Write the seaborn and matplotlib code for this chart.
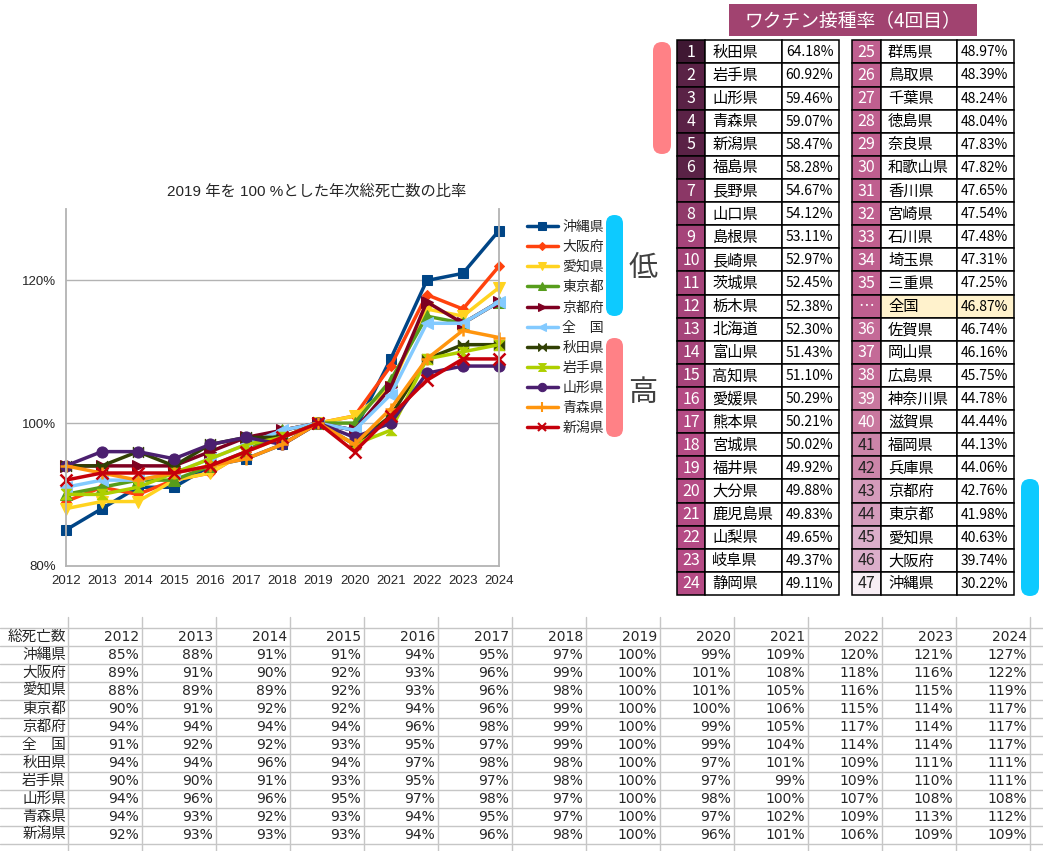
import numpy as np
import pandas as pd
import matplotlib
matplotlib.use("Agg")
import matplotlib.pyplot as plt
import seaborn as sns
from matplotlib.path import Path
from matplotlib.lines import Line2D
from matplotlib.patches import Rectangle, FancyBboxPatch
from matplotlib.ticker import FuncFormatter

# ---------------- data ----------------
years = [2012, 2013, 2014, 2015, 2016, 2017, 2018, 2019, 2020, 2021, 2022, 2023, 2024]
prefs = ["沖縄県", "大阪府", "愛知県", "東京都", "京都府", "全　国",
         "秋田県", "岩手県", "山形県", "青森県", "新潟県"]
okinawa  = [85, 88, 91, 91, 94, 95, 97, 100, 99, 109, 120, 121, 127]
osaka    = [89, 91, 90, 92, 93, 96, 99, 100, 101, 108, 118, 116, 122]
aichi    = [88, 89, 89, 92, 93, 96, 98, 100, 101, 105, 116, 115, 119]
tokyo    = [90, 91, 92, 92, 94, 96, 99, 100, 100, 106, 115, 114, 117]
kyoto    = [94, 94, 94, 94, 96, 98, 99, 100, 99, 105, 117, 114, 117]
zenkoku  = [91, 92, 92, 93, 95, 97, 99, 100, 99, 104, 114, 114, 117]
akita    = [94, 94, 96, 94, 97, 98, 98, 100, 97, 101, 109, 111, 111]
iwate    = [90, 90, 91, 93, 95, 97, 98, 100, 97, 99, 109, 110, 111]
yamagata = [94, 96, 96, 95, 97, 98, 97, 100, 98, 100, 107, 108, 108]
aomori   = [94, 93, 92, 93, 94, 95, 97, 100, 97, 102, 109, 113, 112]
niigata  = [92, 93, 93, 93, 94, 96, 98, 100, 96, 101, 106, 109, 109]
series = [okinawa, osaka, aichi, tokyo, kyoto, zenkoku,
          akita, iwate, yamagata, aomori, niigata]

rank_left = [str(i) for i in range(1, 25)]
names_left = ["秋田県", "岩手県", "山形県", "青森県", "新潟県", "福島県", "長野県", "山口県",
              "島根県", "長崎県", "茨城県", "栃木県", "北海道", "富山県", "高知県", "愛媛県",
              "熊本県", "宮城県", "福井県", "大分県", "鹿児島県", "山梨県", "岐阜県", "静岡県"]
rates_left = [64.18, 60.92, 59.46, 59.07, 58.47, 58.28, 54.67, 54.12, 53.11, 52.97, 52.45, 52.38,
              52.30, 51.43, 51.10, 50.29, 50.21, 50.02, 49.92, 49.88, 49.83, 49.65, 49.37, 49.11]
rank_right = ["25", "26", "27", "28", "29", "30", "31", "32", "33", "34", "35", "…",
              "36", "37", "38", "39", "40", "41", "42", "43", "44", "45", "46", "47"]
names_right = ["群馬県", "鳥取県", "千葉県", "徳島県", "奈良県", "和歌山県", "香川県", "宮崎県",
               "石川県", "埼玉県", "三重県", "全国", "佐賀県", "岡山県", "広島県", "神奈川県",
               "滋賀県", "福岡県", "兵庫県", "京都府", "東京都", "愛知県", "大阪府", "沖縄県"]
rates_right = [48.97, 48.39, 48.24, 48.04, 47.83, 47.82, 47.65, 47.54, 47.48, 47.31, 47.25, 46.87,
               46.74, 46.16, 45.75, 44.78, 44.44, 44.13, 44.06, 42.76, 41.98, 40.63, 39.74, 30.22]

# ---------------- styles ----------------
palette = ["#004586", "#FF420E", "#FFD320", "#579D1C", "#7E0021", "#83CAFF",
           "#314004", "#AECF00", "#4B1F6F", "#FF950E", "#C5000B"]
bowtie_h = Path([(-1, -1), (-1, 1), (1, -1), (1, 1), (-1, -1)],
                [Path.MOVETO, Path.LINETO, Path.LINETO, Path.LINETO, Path.CLOSEPOLY])
bowtie_v = Path([(-1, 1), (1, 1), (-1, -1), (1, -1), (-1, 1)],
                [Path.MOVETO, Path.LINETO, Path.LINETO, Path.LINETO, Path.CLOSEPOLY])
markers = ["s", "D", "v", "^", ">", "<", bowtie_h, bowtie_v, "o", "+", "x"]
msizes = [7.5, 5.5, 8, 8, 8, 8, 7.5, 7.5, 8, 9, 8]

rank_colors_left = ["#3F1833"] + ["#5A2246"] * 5 + ["#8B3766", "#903A6A"] + ["#A6447A"] * 7 + ["#B54B85"] * 9
rank_colors_right = (["#BF5F8F"] * 12 + ["#C46A97"] * 3 + ["#C9789F"] * 2 + ["#CC85A9"] * 2
                     + ["#D49BBB"] * 2 + ["#DBAECA"] * 2 + ["#F7EEF4"])
rank_text_right = ["white"] * 17 + ["#222222"] * 7

sns.set_style("white")
plt.rcParams["font.family"] = ["DejaVu Sans", "Noto Sans CJK JP"]
JP = ["Noto Sans CJK JP", "DejaVu Sans"]
CHART = ["Liberation Sans", "Noto Sans CJK JP", "DejaVu Sans"]

W, H = 1043, 851
fig = plt.figure(figsize=(W / 100, H / 100), dpi=100)

# background overlay in pixel coordinates
bg = fig.add_axes([0, 0, 1, 1])
bg.set_xlim(0, W)
bg.set_ylim(H, 0)
bg.axis("off")

# ---------------- line chart ----------------
ax_l, ax_r, ax_b, ax_t = 65.7, 499.0, 565.7, 209.2
ax = fig.add_axes([ax_l / W, (H - ax_b) / H, (ax_r - ax_l) / W, (ax_b - ax_t) / H])
ax.set_facecolor("none")

df = pd.DataFrame({
    "year": np.tile(years, len(prefs)),
    "ratio": np.concatenate(series),
    "pref": np.repeat(prefs, len(years)),
})
for p, c, m, ms in zip(prefs, palette, markers, msizes):
    sub = df[df["pref"] == p]
    sns.lineplot(data=sub, x="year", y="ratio", color=c, marker=m, markersize=ms,
                 markeredgecolor=c, markeredgewidth=1.8 if m in ("+", "x") else 0.75,
                 linewidth=2.5, ax=ax, clip_on=False, legend=False)

ax.set_xlim(2012, 2024)
ax.set_ylim(80, 130)
ax.set_xticks(years)
ax.set_xticklabels([str(y) for y in years], fontsize=9.5, family=CHART)
ax.set_yticks([80, 100, 120])
ax.yaxis.set_major_formatter(FuncFormatter(lambda v, _: f"{v:.0f}%"))
for lab in ax.get_yticklabels():
    lab.set_family(CHART)
ax.tick_params(axis="y", labelsize=9.5, length=4, color="#B3B3B3", pad=3)
ax.tick_params(axis="x", labelsize=9.5, length=3, color="#B3B3B3", pad=4)
ax.set_xlabel("")
ax.set_ylabel("")
for y in [100, 120]:
    ax.axhline(y, color="#B3B3B3", lw=1.0, zorder=0)
for s in ["left", "right", "bottom"]:
    ax.spines[s].set_color("#B3B3B3")
    ax.spines[s].set_linewidth(1.3)
ax.spines["top"].set_visible(False)

fig.text(317 / W, 1 - 192 / H, "2019 年を 100 %とした年次総死亡数の比率",
         ha="center", va="center", fontsize=11, family=CHART)

handles = [Line2D([], [], color=c, marker=m, markersize=ms * 0.75, markeredgecolor=c,
                  lw=2.5, markeredgewidth=1.5 if m in ("+", "x") else 0.75)
           for c, m, ms in zip(palette, markers, msizes)]
leg = ax.legend(handles, prefs, loc="upper left", bbox_to_anchor=(527 / W, 1 - 220 / H),
                bbox_transform=fig.transFigure, frameon=False, borderaxespad=0,
                handlelength=2.2, handletextpad=0.35, labelspacing=0.44, borderpad=0,
                prop={"family": JP, "size": 10})

# ---------------- decorations ----------------
def pill(x0, y0, x1, y1, color):
    r = (x1 - x0) / 2
    bg.add_patch(FancyBboxPatch((x0 + r, y0 + r), 0.001, (y1 - y0) - 2 * r,
                                boxstyle=f"round,pad={r}", facecolor=color,
                                edgecolor="none", alpha=0.95))

pill(606, 215, 623, 316, "#00C8FF")
pill(606, 338, 623, 437, "#FF7A80")
pill(653, 42, 671, 154, "#FF7A80")
pill(1021, 479, 1039, 596, "#00C8FF")
bg.text(643, 268, "低", ha="center", va="center", fontsize=21, color="#404040", family=JP)
bg.text(643, 393, "高", ha="center", va="center", fontsize=21, color="#404040", family=JP)

# ---------------- ranking table ----------------
bg.add_patch(Rectangle((729, 4), 248, 32, facecolor="#A14370", edgecolor="none"))
bg.text(853, 20.5, "ワクチン接種率（4回目）", ha="center", va="center",
        fontsize=13.5, color="white", family=JP)

top, bottom = 40.3, 595.0
row_h = (bottom - top) / 24

def block(x0, widths, ranks, names, rates, rcolors, tcolors):
    for i, (rk, nm, rt) in enumerate(zip(ranks, names, rates)):
        y0 = top + i * row_h
        hl = nm == "全国"
        cells = [(x0, widths[0], rcolors[i]),
                 (x0 + widths[0], widths[1], "#FFF2CC" if hl else "white"),
                 (x0 + widths[0] + widths[1], widths[2], "#FFF2CC" if hl else "white")]
        for cx, cw, fc in cells:
            bg.add_patch(Rectangle((cx, y0), cw, row_h, facecolor=fc,
                                   edgecolor="black", lw=1.1))
        yc = y0 + row_h / 2 + 0.5
        bg.text(x0 + widths[0] / 2, yc, rk, ha="center", va="center",
                fontsize=11.5, color=tcolors[i], family=JP)
        bg.text(x0 + widths[0] + 7, yc, nm, ha="left", va="center",
                fontsize=11, color="black", family=JP)
        bg.text(x0 + sum(widths) - 6, yc, f"{rt:.2f}%", ha="right", va="center",
                fontsize=10, color="black", family=JP)

block(676.7, [28.6, 77.0, 57.0], rank_left, names_left, rates_left,
      rank_colors_left, ["white"] * 24)
block(851.7, [29.3, 76.3, 57.0], rank_right, names_right, rates_right,
      rank_colors_right, rank_text_right)

# ---------------- bottom data table ----------------
col0, col_w = 68.0, 74.0
row0, trow = 628.0, 18.0
grid_c = "#C6C6C6"
for k in range(len(years) + 1):
    x = col0 + k * col_w
    bg.plot([x, x], [617, H], color=grid_c, lw=1.0)
for k in range(len(prefs) + 2):
    y = row0 + k * trow
    bg.plot([0, W], [y, y], color=grid_c, lw=1.0)

bg.text(col0 - 2, row0 + trow / 2, "総死亡数", ha="right", va="center", fontsize=10.5, family=JP)
for k, yr in enumerate(years):
    bg.text(col0 + (k + 1) * col_w - 3, row0 + trow / 2, str(yr), ha="right",
            va="center", fontsize=10)
for r, (p, vals) in enumerate(zip(prefs, series)):
    yc = row0 + (r + 1) * trow + trow / 2
    bg.text(col0 - 2, yc, p, ha="right", va="center", fontsize=10.5, family=JP)
    for k, v in enumerate(vals):
        bg.text(col0 + (k + 1) * col_w - 3, yc, f"{v}%", ha="right", va="center", fontsize=10)

fig.savefig("out.png", dpi=100)
